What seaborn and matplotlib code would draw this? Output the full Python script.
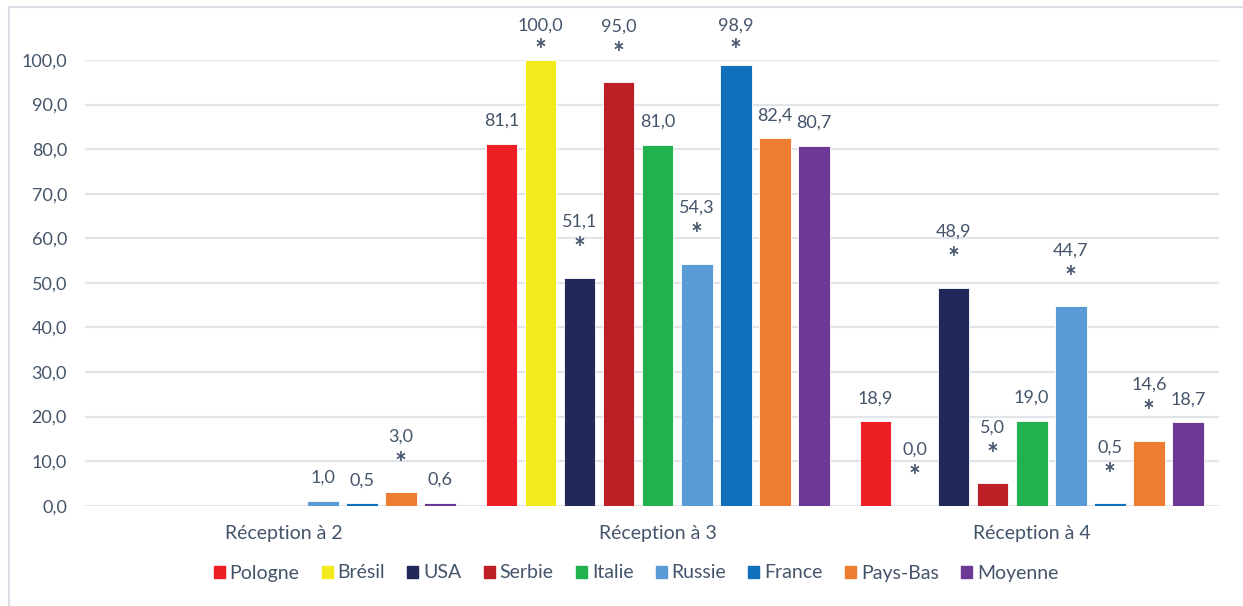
import numpy as np
import pandas as pd
import matplotlib
matplotlib.use('Agg')
import matplotlib.pyplot as plt
import seaborn as sns
from matplotlib.lines import Line2D

groups = ['Réception à 2', 'Réception à 3', 'Réception à 4']
countries = ['Pologne', 'Brésil', 'USA', 'Serbie', 'Italie', 'Russie', 'France', 'Pays-Bas', 'Moyenne']
colors = ['#ED1F24', '#F2EA1A', '#1F2859', '#BE1E26', '#22B14F', '#5B9BD5', '#1170BC', '#ED7D31', '#6E3995']

# values per country: [à 2, à 3, à 4]  (nan = no value in the source)
pologne = [np.nan, 81.1, 18.9]
bresil = [np.nan, 100.0, 0.0]
usa = [np.nan, 51.1, 48.9]
serbie = [np.nan, 95.0, 5.0]
italie = [np.nan, 81.0, 19.0]
russie = [1.0, 54.3, 44.7]
france = [0.5, 98.9, 0.5]
pays_bas = [3.0, 82.4, 14.6]
moyenne = [0.6, 80.7, 18.7]

# significance marks (*)
star_pologne = [False, False, False]
star_bresil = [False, True, True]
star_usa = [False, True, True]
star_serbie = [False, True, True]
star_italie = [False, False, False]
star_russie = [False, True, True]
star_france = [False, True, True]
star_pays_bas = [True, False, True]
star_moyenne = [False, False, False]

series = [pologne, bresil, usa, serbie, italie, russie, france, pays_bas, moyenne]
stars = [star_pologne, star_bresil, star_usa, star_serbie, star_italie,
         star_russie, star_france, star_pays_bas, star_moyenne]

rows = []
for c, vals, st in zip(countries, series, stars):
    for g, v, s in zip(groups, vals, st):
        rows.append({'groupe': g, 'pays': c, 'valeur': v, 'etoile': s})
df = pd.DataFrame(rows)

sns.set_theme(style='white')
plt.rcParams['font.family'] = ['Lato', 'DejaVu Sans']
txt = '#44546A'
grid_c = '#E1E5EA'

fig = plt.figure(figsize=(12.43, 6.06), dpi=100)
ax = fig.add_axes([85 / 1243, 1 - 505.7 / 606, (1218.7 - 85) / 1243, (505.7 - 60) / 606])

sns.barplot(data=df.dropna(), x='groupe', y='valeur', hue='pays', hue_order=countries,
            order=groups, palette=colors, saturation=1, width=0.94, gap=0.19, ax=ax,
            legend=False, err_kws={'linewidth': 0}, edgecolor='white', linewidth=0.6)

ax.set_ylim(0, 100)
ax.set_xlim(-0.531, 2.5)
ax.set_yticks(np.arange(0, 101, 10))
ax.set_yticklabels([f'{t:.1f}'.replace('.', ',') for t in np.arange(0, 101, 10)])
ax.yaxis.grid(True, color=grid_c, linewidth=1.5)
ax.set_axisbelow(True)
for sp in ax.spines.values():
    sp.set_visible(False)
ax.tick_params(axis='both', length=0, colors=txt)
ax.tick_params(axis='y', pad=13, labelsize=13)
ax.tick_params(axis='x', pad=14, labelsize=14)
ax.set_xlabel('')
ax.set_ylabel('')

# value labels
step = 0.94 / 9
for i, (vals, st) in enumerate(zip(series, stars)):
    for g, (v, s) in enumerate(zip(vals, st)):
        if np.isnan(v):
            continue
        xc = g - 0.47 + step * (i + 0.5)
        lab = f'{v:.1f}'.replace('.', ',')
        if s:
            ax.text(xc, min(v + 12.6, 107.8), lab, ha='center', va='center',
                    fontsize=13, color=txt, clip_on=False)
            ax.text(xc, min(v + 6.4, 102.0), '*', ha='center', va='center',
                    fontsize=20, fontweight='bold', color=txt, clip_on=False)
        else:
            ax.text(xc, v + 5.2, lab, ha='center', va='center',
                    fontsize=13, color=txt, clip_on=False)

handles = [plt.Rectangle((0, 0), 1, 1, color=c) for c in colors]
fig.legend(handles, countries, loc='center', bbox_to_anchor=(636 / 1243, 1 - 573 / 606),
           ncol=9, frameon=False, fontsize=14, handlelength=0.57, handleheight=0.57,
           handletextpad=0.26, columnspacing=1.13, labelcolor=txt)

# chart border (left and top edges visible)
fig.add_artist(Line2D([9 / 1243, 9 / 1243], [0, 1 - 7 / 606], color='#D9DEE4', linewidth=1.5))
fig.add_artist(Line2D([9 / 1243, 1], [1 - 7 / 606, 1 - 7 / 606], color='#D9DEE4', linewidth=1.5))

fig.savefig('out.png', dpi=100)
